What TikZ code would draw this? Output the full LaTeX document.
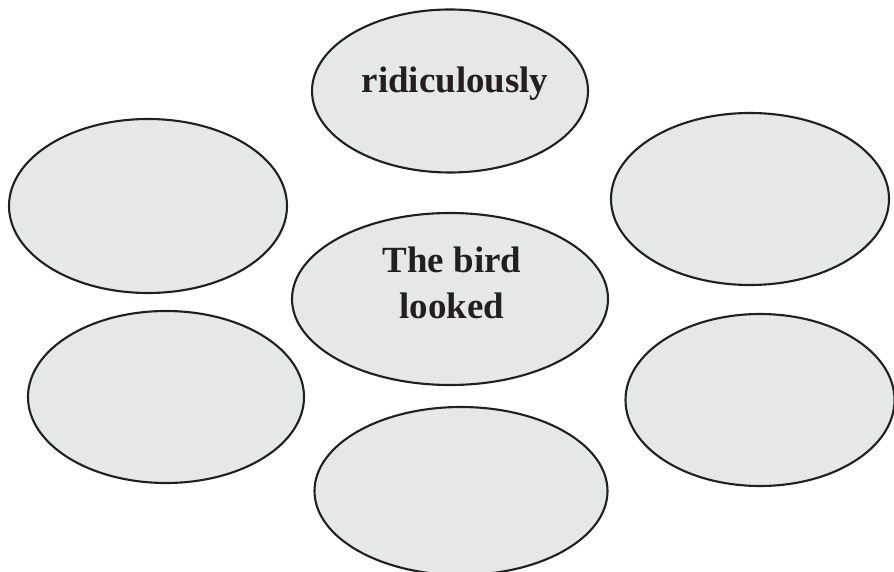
\documentclass[tikz,border=0pt]{standalone}
\usepackage{fontspec}
\setmainfont{Liberation Serif}
\usepackage{tikz}
\usetikzlibrary{shapes.geometric}
\definecolor{bubblefill}{HTML}{E6E7E7}
\definecolor{inkline}{HTML}{231F20}

\begin{document}
\begin{tikzpicture}[
    bubble/.style={ellipse, draw=inkline, fill=bubblefill, line width=1.2pt,
                   inner sep=0pt},
    word/.style={font=\fontsize{21}{26}\selectfont\bfseries, text=inkline,
                 align=center, anchor=base, inner sep=0pt}
]
\clip (0,0) rectangle (17.88,-11.44);
\useasboundingbox (0,0) rectangle (17.88,-11.44);
\node[bubble, minimum width=5.52cm, minimum height=3.26cm] (top) at (9.0, -1.82) {};
\node[bubble, minimum width=5.56cm, minimum height=3.48cm] (upleft) at (2.96, -4.12) {};
\node[bubble, minimum width=5.56cm, minimum height=3.44cm] (upright) at (15.0, -3.98) {};
\node[bubble, minimum width=6.32cm, minimum height=3.44cm] (hub) at (9.0, -5.98) {};
\node[bubble, minimum width=5.52cm, minimum height=3.44cm] (lowleft) at (3.32, -7.94) {};
\node[bubble, minimum width=5.38cm, minimum height=3.44cm] (lowright) at (15.2, -8.0) {};
\node[bubble, minimum width=5.86cm, minimum height=3.36cm] (bottom) at (9.22, -9.82) {};
\node[word] (toptext) at (9.1, -1.86) {ridiculously};
\node[word] (hubtext) at (9.04, -6.36) {The bird\\looked};
\end{tikzpicture}
\end{document}
